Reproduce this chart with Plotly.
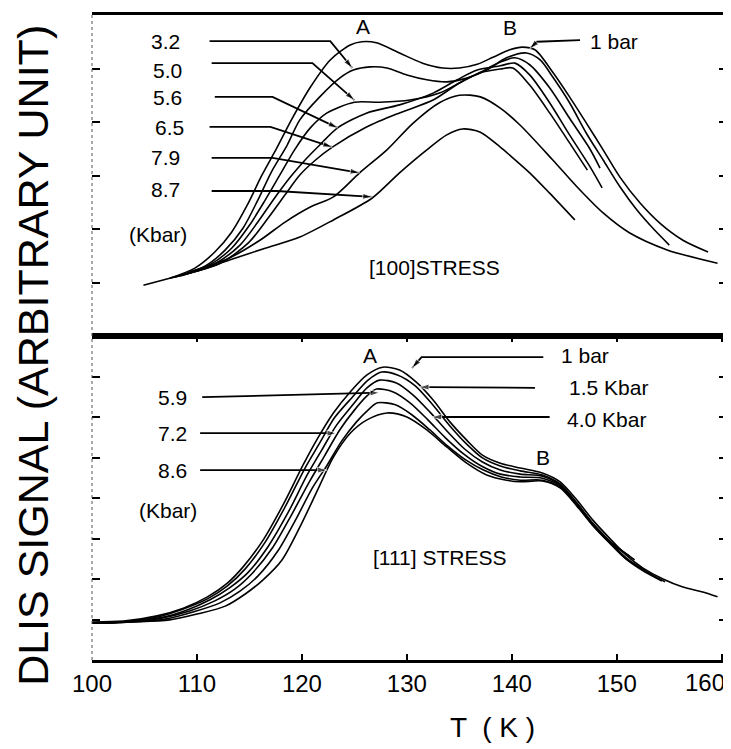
import plotly.graph_objects as go

# ---------------- [100] STRESS panel (top) ----------------
t100_1bar = [107.4, 109.8, 111.7, 113.3, 114.8, 116.2, 117.6, 119.0, 120.8, 122.7, 124.6, 125.7, 127.1, 129.3, 131.5, 133.4, 135.0, 136.7, 138.2, 139.8, 141.0, 142.2, 143.9, 145.5, 147.1, 148.7, 150.3, 152.2, 154.1, 156.3, 158.7]
s100_1bar = [1.08, 1.27, 1.57, 1.94, 2.45, 3.01, 3.51, 4.04, 4.65, 5.16, 5.44, 5.50, 5.48, 5.29, 5.10, 5.01, 5.01, 5.08, 5.21, 5.35, 5.40, 5.35, 4.93, 4.47, 3.98, 3.48, 2.97, 2.49, 2.11, 1.79, 1.57]

t100_32 = [107.9, 110.8, 112.7, 114.4, 115.8, 117.1, 118.6, 119.8, 121.7, 123.6, 124.9, 126.5, 128.1, 130.0, 131.9, 133.8, 135.7, 137.6, 139.5, 141.4, 142.7, 143.9, 145.5, 147.1, 148.7, 150.3, 151.9, 153.6, 155.0]
s100_32 = [1.10, 1.31, 1.61, 2.02, 2.54, 3.07, 3.57, 4.04, 4.47, 4.82, 4.97, 5.03, 5.01, 4.88, 4.79, 4.75, 4.82, 4.97, 5.20, 5.29, 5.16, 4.84, 4.36, 3.79, 3.29, 2.79, 2.36, 1.98, 1.70]

t100_50 = [108.2, 111.2, 113.3, 115.0, 116.5, 117.9, 119.3, 120.8, 122.4, 125.0, 127.4, 130.3, 133.1, 135.0, 137.0, 138.9, 140.3, 141.7, 143.6, 145.5, 147.4, 148.4]
s100_50 = [1.12, 1.33, 1.64, 2.07, 2.54, 3.01, 3.48, 3.89, 4.17, 4.37, 4.37, 4.41, 4.54, 4.73, 4.93, 5.12, 5.20, 5.07, 4.64, 4.07, 3.51, 3.14]

t100_56 = [108.4, 111.7, 114.1, 115.8, 117.4, 118.9, 120.3, 121.7, 123.4, 126.2, 129.3, 132.5, 134.8, 136.7, 138.9, 140.3, 141.7, 143.6, 145.5, 147.4, 148.6]
s100_56 = [1.12, 1.35, 1.70, 2.13, 2.58, 2.97, 3.29, 3.57, 3.89, 4.17, 4.32, 4.54, 4.79, 4.97, 5.05, 5.10, 4.88, 4.36, 3.76, 3.18, 2.77]

t100_65 = [108.6, 112.2, 114.9, 116.8, 118.4, 119.8, 121.3, 122.9, 126.2, 129.3, 132.5, 135.0, 137.0, 138.9, 140.1, 141.7, 143.6, 145.5, 147.2]
s100_65 = [1.14, 1.36, 1.74, 2.21, 2.64, 3.01, 3.29, 3.53, 3.91, 4.17, 4.41, 4.73, 4.92, 4.99, 5.01, 4.69, 4.17, 3.61, 3.10]

t100_79 = [109.3, 113.1, 116.0, 118.4, 120.8, 123.0, 125.5, 128.1, 130.6, 133.1, 135.0, 137.0, 138.9, 140.8, 143.9, 146.2, 148.7, 151.2, 154.8, 159.6]
s100_79 = [1.20, 1.46, 1.79, 2.13, 2.41, 2.60, 3.05, 3.48, 3.98, 4.36, 4.50, 4.47, 4.26, 3.94, 3.29, 2.79, 2.30, 1.93, 1.61, 1.36]

t100_87 = [104.9, 107.4, 110.3, 113.1, 116.5, 119.8, 123.0, 126.7, 129.3, 131.9, 133.8, 135.3, 137.0, 138.9, 139.8, 141.7, 143.6, 146.0]
s100_87 = [0.95, 1.08, 1.23, 1.42, 1.64, 1.85, 2.17, 2.58, 3.05, 3.48, 3.76, 3.87, 3.81, 3.53, 3.38, 3.05, 2.67, 2.17]

# ---------------- [111] STRESS panel (bottom) ----------------
t111_1bar = [100.0, 103.0, 106.2, 108.7, 111.0, 112.9, 114.4, 116.3, 118.2, 120.1, 121.4, 123.0, 124.6, 126.2, 127.7, 129.3, 130.9, 132.5, 134.1, 135.7, 137.2, 138.9, 140.8, 142.9, 144.6, 146.2, 147.7, 149.3, 150.9, 152.5, 154.4, 156.3, 158.2, 159.6]
s111_1bar = [0.94, 0.96, 1.09, 1.28, 1.56, 1.90, 2.30, 2.96, 3.83, 4.81, 5.43, 6.10, 6.62, 7.04, 7.23, 7.16, 6.86, 6.42, 5.88, 5.43, 5.06, 4.86, 4.74, 4.62, 4.40, 3.95, 3.46, 3.01, 2.59, 2.27, 2.00, 1.80, 1.68, 1.56]

t111_15 = [100.0, 103.0, 106.2, 108.7, 111.0, 112.9, 114.6, 116.5, 118.4, 120.3, 121.7, 123.1, 124.8, 126.3, 127.6, 129.1, 130.8, 132.4, 134.1, 135.7, 137.2, 138.9, 140.8, 142.9, 144.6, 146.2, 147.7, 149.3, 150.9, 152.7, 154.6]
s111_15 = [0.91, 0.94, 1.06, 1.26, 1.51, 1.83, 2.25, 2.91, 3.78, 4.74, 5.36, 5.98, 6.49, 6.91, 7.11, 7.04, 6.77, 6.32, 5.78, 5.33, 4.99, 4.79, 4.67, 4.57, 4.35, 3.88, 3.38, 2.94, 2.52, 2.20, 1.93]

t111_40 = [100.0, 103.1, 106.5, 109.0, 111.2, 113.1, 114.9, 116.8, 118.7, 120.5, 121.9, 123.3, 124.9, 126.2, 127.4, 129.0, 130.6, 132.2, 133.9, 135.5, 137.2, 138.9, 140.8, 142.9, 144.6, 146.2, 147.7, 149.3, 150.9, 152.7, 154.3]
s111_40 = [0.91, 0.94, 1.04, 1.23, 1.48, 1.78, 2.17, 2.81, 3.65, 4.57, 5.19, 5.80, 6.32, 6.72, 6.91, 6.84, 6.54, 6.12, 5.63, 5.21, 4.89, 4.69, 4.59, 4.54, 4.32, 3.85, 3.36, 2.91, 2.49, 2.17, 1.95]

t111_59 = [100.0, 103.3, 106.7, 109.3, 111.7, 113.6, 115.3, 117.2, 119.0, 120.8, 122.2, 123.6, 125.0, 126.2, 127.1, 128.7, 130.3, 132.0, 133.7, 135.4, 137.1, 138.9, 140.8, 142.9, 144.6, 146.2, 147.7, 149.3, 150.9, 152.7]
s111_59 = [0.91, 0.94, 1.04, 1.21, 1.46, 1.75, 2.15, 2.77, 3.58, 4.44, 5.06, 5.68, 6.17, 6.52, 6.69, 6.62, 6.35, 5.93, 5.48, 5.09, 4.79, 4.59, 4.52, 4.49, 4.30, 3.83, 3.33, 2.89, 2.49, 2.22]

t111_72 = [100.0, 103.6, 107.0, 109.7, 112.2, 114.1, 115.8, 117.7, 119.5, 121.0, 122.4, 123.8, 125.2, 126.3, 127.2, 128.9, 130.5, 132.2, 133.9, 135.6, 137.3, 139.0, 140.8, 142.9, 144.6, 146.2, 147.7, 149.3, 151.7]
s111_72 = [0.91, 0.94, 1.01, 1.19, 1.41, 1.70, 2.07, 2.69, 3.51, 4.25, 4.81, 5.41, 5.88, 6.17, 6.35, 6.30, 6.05, 5.68, 5.28, 4.94, 4.69, 4.52, 4.44, 4.44, 4.27, 3.83, 3.36, 2.94, 2.47]

t111_86 = [100.0, 103.9, 107.4, 110.1, 112.7, 114.6, 116.3, 118.1, 119.8, 121.5, 123.0, 124.6, 126.2, 128.1, 130.0, 131.9, 133.8, 135.7, 137.6, 139.5, 140.8, 142.9, 144.6, 146.2, 147.7, 149.3, 151.2]
s111_86 = [0.91, 0.94, 0.99, 1.14, 1.33, 1.63, 1.98, 2.47, 3.28, 4.20, 5.01, 5.60, 5.93, 6.10, 6.00, 5.68, 5.26, 4.86, 4.57, 4.44, 4.40, 4.42, 4.25, 3.80, 3.33, 2.91, 2.57]

x_ticks = [100, 110, 120, 130, 140, 150, 160]
x_ticklabels = ["100", "110", "120", "130", "140", "150", ""]
last_tick_label = "160"   # drawn at the plot's right edge, as in the cropped original

# leader lines (T, signal) : label -> curve
lead100_32 = ([111.2, 122.7, 124.8], [5.51, 5.51, 5.01])
lead100_50 = ([111.4, 121.0, 125.0], [5.10, 5.10, 4.41])
lead100_56 = ([111.7, 117.2, 123.4], [4.47, 4.47, 3.89])
lead100_65 = ([111.2, 117.0, 122.9], [3.91, 3.91, 3.53])
lead100_79 = ([111.4, 117.2, 125.5], [3.33, 3.33, 3.05])
lead100_87 = ([111.4, 117.6, 126.7], [2.71, 2.71, 2.60])
lead100_1bar = ([146.5, 142.4, 141.7], [5.53, 5.50, 5.37])

lead111_59 = ([110.5, 127.4], [6.49, 6.60])
lead111_72 = ([110.3, 123.3], [5.60, 5.60])
lead111_86 = ([110.3, 122.4], [4.69, 4.69])
lead111_1bar = ([143.0, 131.4, 130.5], [7.48, 7.48, 7.21])
lead111_15 = ([142.2, 131.2], [6.72, 6.74])
lead111_40 = ([143.6, 132.4], [6.00, 6.00])

fig = go.Figure()

top_curves = [(t100_1bar, s100_1bar), (t100_32, s100_32), (t100_50, s100_50), (t100_56, s100_56),
              (t100_65, s100_65), (t100_79, s100_79), (t100_87, s100_87)]
bot_curves = [(t111_1bar, s111_1bar), (t111_15, s111_15), (t111_40, s111_40), (t111_59, s111_59),
              (t111_72, s111_72), (t111_86, s111_86)]

for t, s in top_curves:
    fig.add_trace(go.Scatter(x=t, y=s, xaxis="x2", yaxis="y2", mode="lines",
                             line=dict(color="black", width=1.6, shape="spline", smoothing=0.8),
                             hoverinfo="skip"))
for t, s in bot_curves:
    fig.add_trace(go.Scatter(x=t, y=s, xaxis="x", yaxis="y", mode="lines",
                             line=dict(color="black", width=1.6, shape="spline", smoothing=0.8),
                             hoverinfo="skip"))


def leader(pts, xa, ya):
    t, s = pts
    n = len(t)
    fig.add_trace(go.Scatter(x=t, y=s, xaxis=xa, yaxis=ya, mode="lines+markers",
                             line=dict(color="black", width=1.8),
                             marker=dict(symbol="arrow", angleref="previous",
                                         size=[0] * (n - 1) + [10], color="black"),
                             hoverinfo="skip"))


for p in [lead100_32, lead100_50, lead100_56, lead100_65, lead100_79, lead100_87, lead100_1bar]:
    leader(p, "x2", "y2")
for p in [lead111_59, lead111_72, lead111_86, lead111_1bar, lead111_15, lead111_40]:
    leader(p, "x", "y")

FONT = "Liberation Sans"
ann = []


def txt(x, y, text, xref, yref, size=21, xanchor="center"):
    ann.append(dict(x=x, y=y, xref=xref, yref=yref, text=text, showarrow=False,
                    xanchor=xanchor, yanchor="middle",
                    font=dict(family=FONT, size=size, color="black")))


# top panel labels
txt(107.0, 5.50, "3.2", "x2", "y2")
txt(107.2, 4.97, "5.0", "x2", "y2")
txt(107.2, 4.45, "5.6", "x2", "y2")
txt(107.4, 3.89, "6.5", "x2", "y2")
txt(107.0, 3.33, "7.9", "x2", "y2")
txt(107.0, 2.73, "8.7", "x2", "y2")
txt(106.3, 1.89, "(Kbar)", "x2", "y2")
txt(125.8, 5.78, "A", "x2", "y2")
txt(139.8, 5.76, "B", "x2", "y2")
txt(149.7, 5.50, "1 bar", "x2", "y2")
txt(132.6, 1.29, "[100]STRESS", "x2", "y2")

# bottom panel labels
txt(107.7, 6.47, "5.9", "x", "y")
txt(107.7, 5.60, "7.2", "x", "y")
txt(107.7, 4.69, "8.6", "x", "y")
txt(107.2, 3.70, "(Kbar)", "x", "y")
txt(126.5, 7.53, "A", "x", "y")
txt(143.0, 4.99, "B", "x", "y")
txt(147.0, 7.53, "1 bar", "x", "y")
txt(149.2, 6.74, "1.5 Kbar", "x", "y")
txt(149.0, 5.93, "4.0 Kbar", "x", "y")
txt(133.1, 2.52, "[111] STRESS", "x", "y")

# last x tick label, kept inside the page
ann.append(dict(x=1, y=0, xref="paper", yref="paper", text=last_tick_label, showarrow=False,
                xanchor="right", yanchor="top", yshift=-7, xshift=0,
                font=dict(family=FONT, size=24, color="black")))

# axis titles
ann.append(dict(x=-0.093, y=0.473, xref="paper", yref="paper", text="DLIS SIGNAL (ARBITRARY UNIT)",
                textangle=-90, showarrow=False, xanchor="center", yanchor="middle",
                font=dict(family=FONT, size=43, color="black")))
ann.append(dict(x=0.631, y=-0.105, xref="paper", yref="paper", text="T  ( K )",
                showarrow=False, xanchor="center", yanchor="middle",
                font=dict(family=FONT, size=28, color="black")))

split = 0.5023
fig.update_layout(
    width=723, height=741,
    margin=dict(l=84, r=4, t=7, b=89, autoexpand=False),
    paper_bgcolor="white", plot_bgcolor="white",
    showlegend=False,
    annotations=ann,
    xaxis=dict(domain=[0, 1], anchor="y", range=[100, 160.5], tickvals=x_ticks, ticktext=x_ticklabels,
               showline=True, linecolor="black", linewidth=2.5, mirror="ticks",
               ticks="inside", ticklen=6, tickwidth=1.5, tickcolor="black",
               showgrid=False, zeroline=False, automargin=False, ticklabeloverflow="allow",
               tickfont=dict(family=FONT, size=24, color="black")),
    yaxis=dict(domain=[0, split], anchor="x", range=[0, 8], dtick=1, tick0=0,
               showticklabels=False, showgrid=False, zeroline=False, showline=False, automargin=False,
               ticks="inside", ticklen=8, tickwidth=1.6, tickcolor="black", mirror="ticks"),
    xaxis2=dict(domain=[0, 1], anchor="y2", matches="x", range=[100, 160.5], automargin=False,
                showline=True, linecolor="black", linewidth=2.5, mirror=True,
                ticks="", showticklabels=False, showgrid=False, zeroline=False),
    yaxis2=dict(domain=[split, 1], anchor="x2", range=[0, 6], dtick=1, tick0=0, automargin=False,
                showticklabels=False, showgrid=False, zeroline=False, showline=False,
                ticks="inside", ticklen=8, tickwidth=1.6, tickcolor="black", mirror="ticks"),
    shapes=[dict(type="line", xref="paper", yref="paper", x0=0, x1=0, y0=0, y1=1,
                 line=dict(color="#555555", width=1, dash="dot"))],
)

fig.write_html("out.html")
